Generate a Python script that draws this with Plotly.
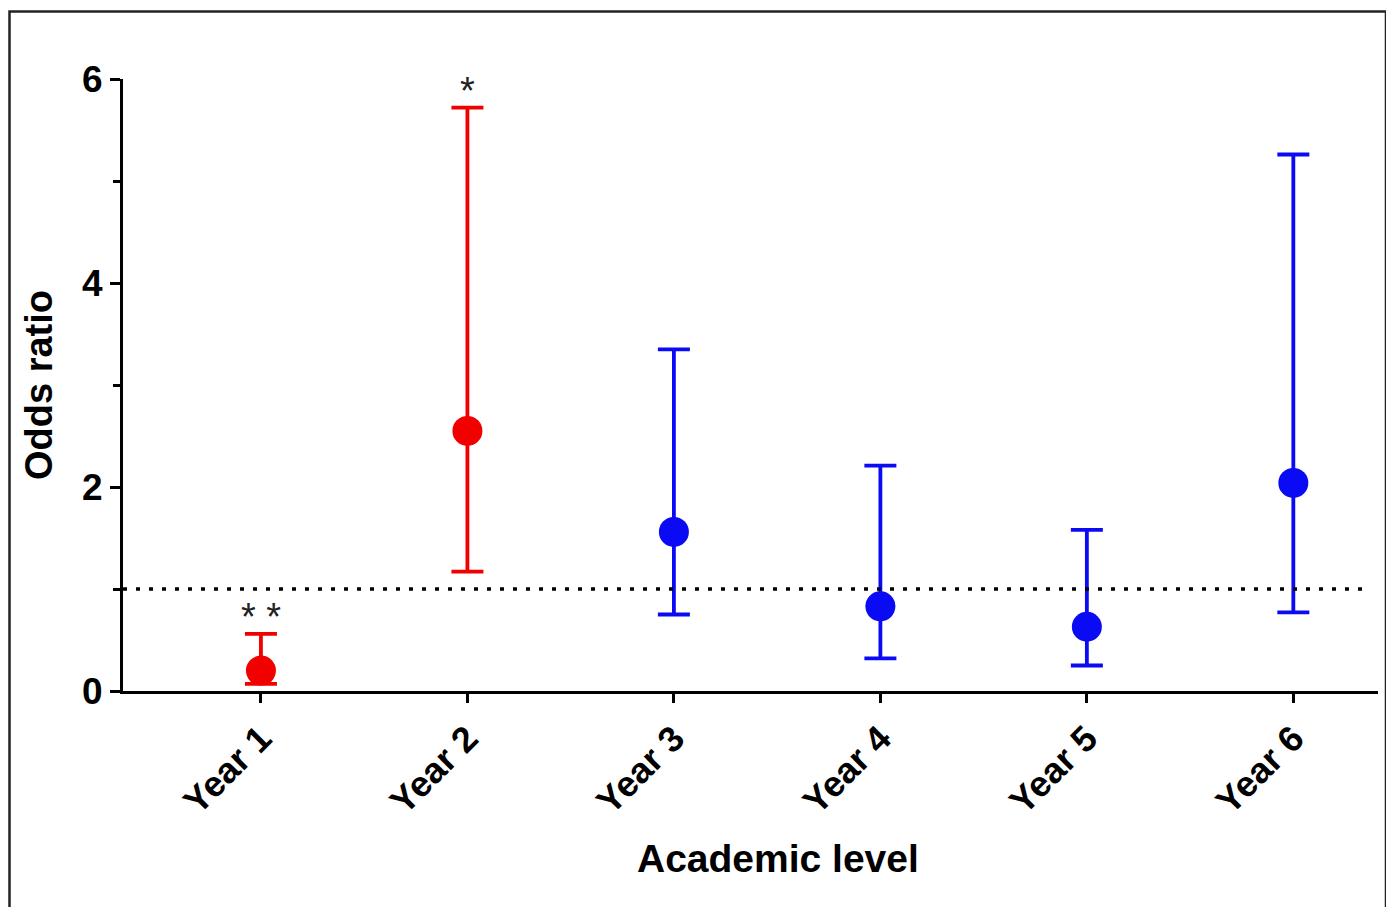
import plotly.graph_objects as go

# ---- data ----
years = ["Year 1", "Year 2", "Year 3", "Year 4", "Year 5", "Year 6"]
odds_ratio = [0.20, 2.55, 1.56, 0.83, 0.63, 2.04]
ci_low = [0.07, 1.17, 0.75, 0.32, 0.25, 0.77]
ci_high = [0.56, 5.72, 3.35, 2.21, 1.58, 5.26]
significance = ["**", "*", "", "", "", ""]
reference_line = 1.0
y_ticks = [0, 2, 4, 6]
y_minor_ticks = [1, 3, 5]

RED = "#f20000"
BLUE = "#0a0af5"
FONT = "Liberation Sans"

xpos = list(range(1, len(years) + 1))

# plot-area geometry in page pixels (page has an 8px body margin)
PL, PR, PT, PB = 123, 1378, 79, 691
W, H = 1386, 899


def px_x(p):
    return (p - PL) / (PR - PL)


def px_y(p):
    return (PB - p) / (PB - PT)


fig = go.Figure()

groups = {"sig": [i for i, s in enumerate(significance) if s],
          "ns": [i for i, s in enumerate(significance) if not s]}
for key, idx in groups.items():
    color = RED if key == "sig" else BLUE
    fig.add_trace(go.Scatter(
        x=[xpos[i] for i in idx],
        y=[odds_ratio[i] for i in idx],
        mode="markers",
        marker=dict(size=30, color=color),
        error_y=dict(
            type="data",
            symmetric=False,
            array=[ci_high[i] - odds_ratio[i] for i in idx],
            arrayminus=[odds_ratio[i] - ci_low[i] for i in idx],
            color=color, thickness=3.8, width=16,
        ),
        cliponaxis=False,
        showlegend=False,
    ))

# reference dotted line at OR = 1
fig.add_shape(type="line", xref="paper", yref="y", x0=0.0, x1=px_x(1370),
              y0=reference_line, y1=reference_line,
              line=dict(color="black", width=3.5, dash="4px,9px"))

# significance stars
for i, s in enumerate(significance):
    if s:
        fig.add_annotation(x=xpos[i], y=ci_high[i], text=" ".join(s), showarrow=False,
                           yanchor="bottom", yshift=-6,
                           font=dict(family=FONT, size=38, color="#222222"))

# x-axis title
fig.add_annotation(xref="paper", yref="paper", x=px_x(778), y=px_y(858),
                   text="Academic level", showarrow=False, yanchor="middle", xanchor="center",
                   font=dict(family=FONT, size=39, weight="bold", color="black"))

# outer frame
fig.add_shape(type="rect", xref="paper", yref="paper",
              x0=px_x(9.5), x1=px_x(1386), y0=px_y(915), y1=px_y(11.5),
              line=dict(color="#222222", width=2.5), fillcolor="rgba(0,0,0,0)")

fig.update_layout(
    width=W, height=H,
    margin=dict(l=PL - 8, r=W + 8 - PR, t=PT - 8, b=H + 8 - PB, autoexpand=False),
    paper_bgcolor="white", plot_bgcolor="white",
    font=dict(family=FONT, color="black"),
    xaxis=dict(
        range=[0.332, 6.41], tickvals=xpos, ticktext=years, tickangle=-45,
        showgrid=False, zeroline=False, showline=True, linecolor="black", linewidth=3,
        ticks="outside", ticklen=9, tickwidth=3, tickcolor="black",
        tickfont=dict(family=FONT, size=36, weight="bold", color="black"),
    ),
    yaxis=dict(
        range=[0, 6], tickvals=y_ticks, showgrid=False, zeroline=False,
        showline=True, linecolor="black", linewidth=3,
        ticks="outside", ticklen=10, tickwidth=3, tickcolor="black",
        tickfont=dict(family=FONT, size=37, weight="bold", color="black"),
        minor=dict(tickvals=y_minor_ticks, ticks="outside", ticklen=7, tickwidth=3, tickcolor="black"),
        title=dict(text="Odds ratio", standoff=18,
                   font=dict(family=FONT, size=38, weight="bold", color="black")),
    ),
)

fig.write_html("out.html")
